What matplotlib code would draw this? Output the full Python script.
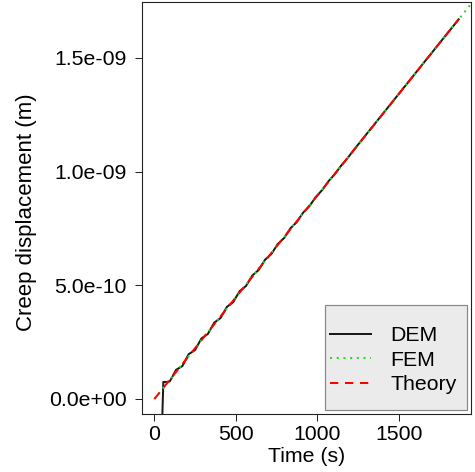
import numpy as np
import matplotlib
matplotlib.use("Agg")
import matplotlib.pyplot as plt
from matplotlib.ticker import FixedLocator, FixedFormatter
from matplotlib.patches import Rectangle

plt.rcParams['font.family'] = ['Liberation Sans', 'DejaVu Sans']
plt.rcParams['lines.scale_dashes'] = False

# ---- data ----
dem_time = [49, 55, 74.5, 94, 113.5, 133, 152.5, 172, 191.5, 211, 230.5, 250, 269.5,
            289, 308.5, 328, 347.5, 367, 386.5, 406, 425.5, 445, 464.5, 484, 503.5,
            523, 542.5, 562, 581.5, 601, 620.5, 640, 659.5, 679, 698.5, 718, 737.5,
            757, 776.5, 796, 815.5, 835, 854.5, 874, 893.5, 913, 932.5, 952, 971.5,
            991, 1010.5, 1030, 1049.5, 1069, 1088.5, 1108, 1127.5, 1147, 1166.5,
            1186, 1205.5, 1225, 1866]
# creep displacement of DEM, in units of 1e-11 m
dem_disp_e11 = [-7.0, 7.5, 7.5, 7.7, 10.16, 12.84, 13.65, 14.48, 17.14, 19.76, 20.63,
                21.53, 24.12, 26.68, 27.61, 28.58, 31.10, 33.60, 34.59, 35.62, 38.08,
                40.52, 41.57, 42.66, 45.06, 47.44, 48.55, 49.71, 52.04, 54.35, 55.53,
                56.75, 59.03, 61.27, 62.52, 63.79, 66.01, 68.19, 69.50, 70.83, 72.99,
                75.11, 76.48, 77.88, 79.97, 82.02, 83.46, 84.92, 86.95, 88.94, 90.44,
                91.97, 93.93, 95.87, 97.42, 99.01, 100.91, 102.79, 104.40, 106.05,
                107.89, 109.70, 167.0]
fem_time = [0, 1950]
fem_disp = [0.0, 1.745e-9]
theory_time = [0, 1866]
theory_disp = [0.0, 1.670e-9]

x_ticks = [0, 500, 1000, 1500]
y_ticks = [0.0, 5.0e-10, 1.0e-9, 1.5e-9]
y_tick_labels = ["0.0e+00", "5.0e-10", "1.0e-09", "1.5e-09"]
series_labels = ["DEM", "FEM", "Theory"]

# ---- figure ----
W, H = 475, 472
dpi = 100
fig = plt.figure(figsize=(W / dpi, H / dpi), dpi=dpi)
left, right, top, bottom = 142.3, 471, 2, 413.7
aw, ah = right - left, bottom - top
ax = fig.add_axes([left / W, 1 - bottom / H, aw / W, ah / H])

px = 0.72  # points per pixel
fs = 15.3
fpx = fs / px  # font size in pixels

ax.plot(dem_time, np.array(dem_disp_e11) * 1e-11, color='#1a1a1a', lw=2 * px,
        label=series_labels[0], solid_joinstyle='round')
ax.plot(fem_time, fem_disp, color='#22dd22', lw=2 * px,
        linestyle=(0, (2 * px, 4.7 * px)), label=series_labels[1])
ax.plot(theory_time, theory_disp, color='#ff0000', lw=2 * px,
        linestyle=(0, (8.3 * px, 6.7 * px)), label=series_labels[2])

ax.set_xlim(-74, 1942)
ax.set_ylim(-6.47e-11, 1.7463e-9)

ax.xaxis.set_major_locator(FixedLocator(x_ticks))
ax.yaxis.set_major_locator(FixedLocator(y_ticks))
ax.yaxis.set_major_formatter(FixedFormatter(y_tick_labels))
ax.tick_params(axis='both', direction='out', length=7 * px, width=1 * px,
               labelsize=fs, color='#222222')
ax.tick_params(axis='x', pad=3)
ax.tick_params(axis='y', pad=6)
for s in ax.spines.values():
    s.set_linewidth(1.1 * px)
    s.set_color('#222222')

fig.text(306.7 / W, 1 - 457 / H, "Time (s)", ha='center', va='center', fontsize=fs)
fig.text(27 / W, 1 - 212 / H, "Creep displacement (m)", ha='center', va='center',
         rotation=90, fontsize=16)

# legend: box (R style, uneven padding) + frameless legend content
bx0, bx1, by0, by1 = 325, 467, 305, 410  # legend box in pixels
ax.add_patch(Rectangle(((bx0 - left) / aw, (bottom - by1) / ah),
                       (bx1 - bx0) / aw, (by1 - by0) / ah,
                       transform=ax.transAxes, facecolor='#ebebeb',
                       edgecolor='#888888', lw=1.2 * px, zorder=4.9, clip_on=False))
cx, cy = 393.5, 360.2
leg = ax.legend(loc='center', bbox_to_anchor=((cx - left) / aw, (bottom - cy) / ah),
                borderaxespad=0, borderpad=0, frameon=False, fontsize=fs,
                handlelength=41 / fpx, handletextpad=19 / fpx, labelspacing=0.27)
leg.set_zorder(5)

fig.savefig("out.png", dpi=dpi)
